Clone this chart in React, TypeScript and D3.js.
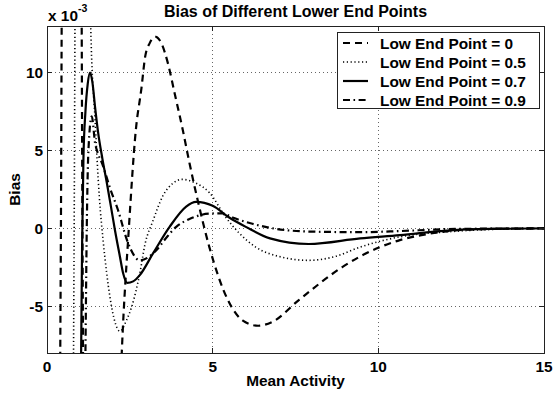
import React from 'react';
import * as d3 from 'd3';

// ---- data (bias values in units of 1e-3) ----
const xTicks = [0, 5, 10, 15];
const yTicks = [-5, 0, 5, 10];
const xDomain: [number, number] = [0, 15];
const yDomain: [number, number] = [-8, 13];

const lep0X = [0.2, 0.38, 0.42, 0.46, 0.75, 1.03, 1.07, 1.11, 1.5, 2.0, 2.26, 2.47, 2.68, 2.85, 2.96, 3.1, 3.28, 3.45, 3.65, 3.85, 4.1, 4.3, 4.56, 4.9, 5.46, 5.9, 6.37, 6.8, 7.6, 8.9, 9.45, 10.05, 10.65, 11.3, 12, 13, 15];
const lep0Y = [-60, -15, 0, 20, 40, 20, 0, -15, -40, -25, -7.8, 0, 6.3, 9, 11.0, 11.9, 12.3, 11.9, 10.6, 8.7, 6.3, 4.2, 1.7, -1.2, -4.6, -5.9, -6.25, -6.0, -4.6, -2.5, -1.8, -1.2, -0.75, -0.43, -0.2, -0.05, 0];

const lep05X = [0.3, 0.78, 0.82, 0.86, 1.05, 1.26, 1.32, 1.45, 1.58, 1.7, 1.9, 2.05, 2.2, 2.4, 2.56, 2.8, 2.96, 3.2, 3.5, 3.8, 4.07, 4.5, 4.9, 5.4, 5.8, 6.3, 7.0, 7.9, 8.7, 9.45, 10.65, 12.2, 13.5, 15];
const lep05Y = [-80, -15, 0, 20, 45, 22, 13, 7, 2, -0.9, -4.4, -6.0, -6.6, -5.9, -5.0, -2.9, -1.0, 0.5, 2.1, 2.9, 3.15, 2.9, 2.3, 0.7, -0.3, -1.2, -1.8, -2.05, -1.8, -1.2, -0.54, -0.2, -0.06, 0];

const lep07X = [0.8, 0.97, 1.03, 1.06, 1.1, 1.16, 1.23, 1.3, 1.37, 1.45, 1.54, 1.67, 1.8, 1.93, 2.05, 2.2, 2.3, 2.42, 2.6, 2.8, 3.2, 3.7, 4.2, 4.5, 5.0, 5.5, 6.0, 6.73, 7.9, 9.45, 10.65, 12.16, 13.5, 15];
const lep07Y = [-60, -20, -8, -1, 4.5, 7.5, 9.3, 10, 9.4, 7.8, 6.2, 4.5, 3.0, 1.4, -0.1, -1.8, -2.9, -3.5, -3.4, -3.0, -1.6, 0.1, 1.4, 1.7, 1.45, 0.7, 0.1, -0.64, -1.0, -0.64, -0.43, -0.12, -0.03, 0];

const lep09X = [0.8, 1.1, 1.16, 1.2, 1.25, 1.35, 1.45, 1.54, 1.66, 1.9, 2.14, 2.44, 2.8, 3.3, 3.6, 3.9, 4.3, 4.9, 5.3, 5.6, 6.2, 6.7, 7.9, 9.45, 10.65, 12, 13.5, 15];
const lep09Y = [-80, -20, -8, 0, 5, 7.2, 5.5, 4.8, 4.2, 2.6, 1.2, -0.9, -2.05, -1.4, -0.6, 0.1, 0.6, 0.95, 0.97, 0.7, 0.3, 0.05, -0.2, -0.24, -0.17, -0.05, -0.01, 0];

const seriesLabels = ['Low End Point = 0', 'Low End Point = 0.5', 'Low End Point = 0.7', 'Low End Point = 0.9'];
const seriesX = [lep0X, lep05X, lep07X, lep09X];
const seriesY = [lep0Y, lep05Y, lep07Y, lep09Y];

// ---- styles ----
const lineStyles = [
  { dash: '7,5', width: 2.2 },
  { dash: '1.2,2.6', width: 1.6 },
  { dash: 'none', width: 2.2 },
  { dash: '7,3.5,1.6,3.5', width: 2.2 },
];

const FONT = "'Liberation Sans', Arial, Helvetica, sans-serif";

export default function App() {
  const W = 553, H = 399;
  const L = 47, T = 26, R = 544, B = 353;
  const x = d3.scaleLinear().domain(xDomain).range([L, R]);
  const y = d3.scaleLinear().domain(yDomain).range([B, T]);
  const line = d3.line<[number, number]>()
    .x(d => x(d[0]))
    .y(d => y(d[1]))
    .curve(d3.curveMonotoneX);

  const tickLen = 5;
  const legend = { x0: 337, y0: 32, x1: 539, y1: 108, rowY: [43, 62, 81, 100], lx0: 343, lx1: 368, tx: 380 };

  return (
    <svg width={W} height={H} style={{ position: 'absolute', left: 0, top: 0, background: '#fff' }}
      fontFamily={FONT} fontWeight="bold">
      <defs>
        <clipPath id="plotclip">
          <rect x={L} y={T} width={R - L} height={B - T} />
        </clipPath>
      </defs>
      <rect x={0} y={0} width={W} height={H} fill="#fff" />
      {/* grid */}
      <g stroke="#555" strokeWidth={0.9} strokeDasharray="1,3" shapeRendering="crispEdges">
        {xTicks.filter(t => t > xDomain[0] && t < xDomain[1]).map(t => (
          <line key={'gx' + t} x1={x(t)} x2={x(t)} y1={T} y2={B} />
        ))}
        {yTicks.map(t => (
          <line key={'gy' + t} x1={L} x2={R} y1={y(t)} y2={y(t)} />
        ))}
      </g>
      {/* curves */}
      <g clipPath="url(#plotclip)" fill="none" stroke="#000">
        {seriesX.map((xs, i) => {
          const pts = xs.map((v, j) => [v, seriesY[i][j]] as [number, number]);
          return (
            <path key={i} d={line(pts) || ''} strokeWidth={lineStyles[i].width}
              strokeDasharray={lineStyles[i].dash} strokeLinejoin="round" />
          );
        })}
      </g>
      {/* axes box and ticks */}
      <g stroke="#222" strokeWidth={1} shapeRendering="crispEdges" fill="none">
        <rect x={L} y={T} width={R - L} height={B - T} />
        {xTicks.map(t => (
          <g key={'tx' + t}>
            <line x1={x(t)} x2={x(t)} y1={B} y2={B - tickLen} />
            <line x1={x(t)} x2={x(t)} y1={T} y2={T + tickLen} />
          </g>
        ))}
        {yTicks.map(t => (
          <g key={'ty' + t}>
            <line x1={L} x2={L + tickLen} y1={y(t)} y2={y(t)} />
            <line x1={R} x2={R - tickLen} y1={y(t)} y2={y(t)} />
          </g>
        ))}
      </g>
      {/* tick labels */}
      <g fontSize={15.4} fill="#000">
        {xTicks.map(t => (
          <text key={'lx' + t} x={x(t)} y={372} textAnchor="middle">{t}</text>
        ))}
        {yTicks.map(t => (
          <text key={'ly' + t} x={L - 4} y={y(t) + 5.6} textAnchor="end">{t < 0 ? '-' + Math.abs(t) : t}</text>
        ))}
      </g>
      {/* exponent */}
      <text x={48} y={20.5} fontSize={15.4}>x 10</text>
      <text x={78} y={12} fontSize={10.5}>-3</text>
      {/* title & labels */}
      <text x={(L + R) / 2} y={16.5} fontSize={16} textAnchor="middle">Bias of Different Lower End Points</text>
      <text x={(L + R) / 2} y={386} fontSize={15.4} textAnchor="middle">Mean Activity</text>
      <text transform={`translate(20,${(T + B) / 2}) rotate(-90)`} fontSize={15.4} textAnchor="middle">Bias</text>
      {/* legend */}
      <g>
        <rect x={legend.x0} y={legend.y0} width={legend.x1 - legend.x0} height={legend.y1 - legend.y0}
          fill="#fff" stroke="#222" strokeWidth={1} shapeRendering="crispEdges" />
        {seriesLabels.map((s, i) => (
          <g key={'lg' + i}>
            <line x1={legend.lx0} x2={legend.lx1} y1={legend.rowY[i]} y2={legend.rowY[i]} stroke="#000"
              strokeWidth={lineStyles[i].width} strokeDasharray={lineStyles[i].dash} />
            <text x={legend.tx} y={legend.rowY[i] + 5.5} fontSize={15.4}>{s}</text>
          </g>
        ))}
      </g>
    </svg>
  );
}
